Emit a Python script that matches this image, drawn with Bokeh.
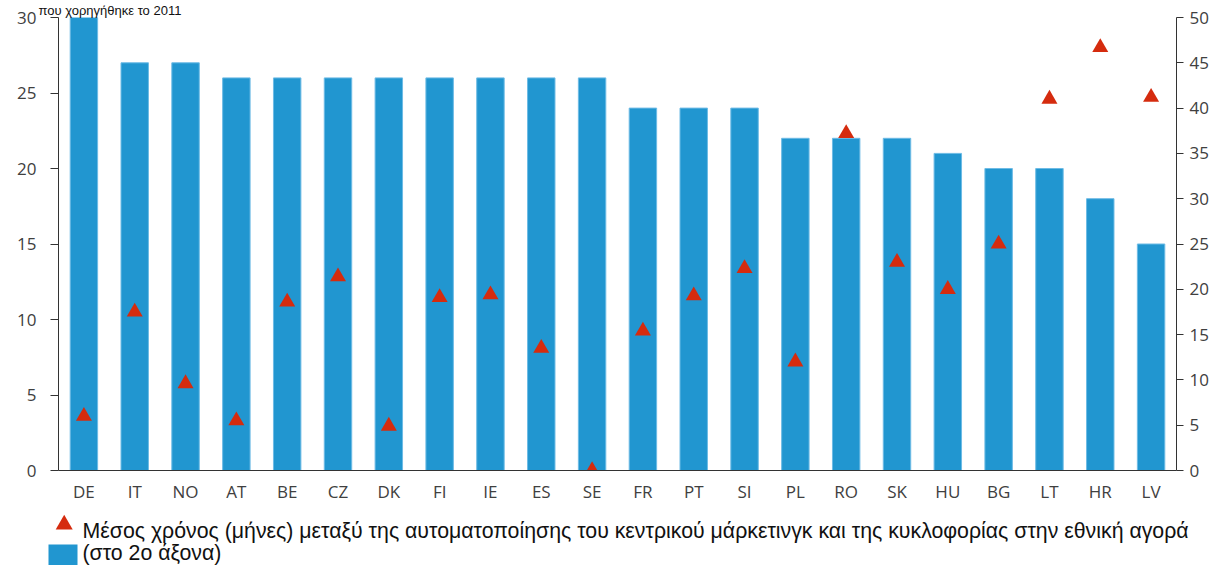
from bokeh.plotting import figure
from bokeh.models import FactorRange, Range1d, LinearAxis, SingleIntervalTicker, ColumnDataSource
from bokeh.layouts import column
from bokeh.core.properties import value
from bokeh.embed import file_html
from bokeh.resources import INLINE

# ---------------- data ----------------
countries = ["DE", "IT", "NO", "AT", "BE", "CZ", "DK", "FI", "IE", "ES", "SE",
             "FR", "PT", "SI", "PL", "RO", "SK", "HU", "BG", "LT", "HR", "LV"]
bars_2011 = [30, 27, 27, 26, 26, 26, 26, 26, 26, 26, 26,
             24, 24, 24, 22, 22, 22, 21, 20, 20, 18, 15]
months_avg = [6.0, 17.5, 9.6, 5.5, 18.6, 21.4, 4.9, 19.1, 19.4, 13.5, 0.0,
              15.4, 19.3, 22.3, 12.0, 37.2, 23.0, 20.0, 25.0, 41.0, 46.7, 41.2]
title_text = "που χορηγήθηκε το 2011"
legend_triangle = "Μέσος χρόνος (μήνες) μεταξύ της αυτοματοποίησης του κεντρικού μάρκετινγκ και της κυκλοφορίας στην εθνική αγορά"
legend_bar = "(στο 2ο άξονα)"

BAR = "#2196d0"
TRI = "#d52b0e"
AXC = "#333333"
LBL = "#404040"
TICK_FONT = "Open Sans"
TEXT_FONT = "Liberation Sans"

W = 1225
H1 = 510
H2 = 55

src = ColumnDataSource(dict(c=countries, b=bars_2011, m=months_avg))

p = figure(x_range=FactorRange(*countries, range_padding=0), y_range=Range1d(0, 30),
           width=W, height=H1, output_backend="svg", toolbar_location=None,
           title=title_text,
           min_border_left=58, min_border_right=49, min_border_top=16, min_border_bottom=40)
p.title.text_font = TEXT_FONT
p.title.text_font_size = "13px"
p.title.text_font_style = "normal"
p.title.text_color = "#111111"
p.title.align = "left"
p.title.standoff = 0
p.title.offset = -20

p.extra_y_ranges = {"right": Range1d(0, 50)}
p.outline_line_color = None
p.xgrid.grid_line_color = None
p.ygrid.grid_line_color = None
p.background_fill_color = None
p.border_fill_color = None

p.vbar(x="c", top="b", width=0.54, source=src, fill_color=BAR, line_color="#6dbbe5", line_width=1)
p.scatter(x="c", y="m", source=src, marker="triangle", size=16, y_range_name="right",
          fill_color=TRI, line_color=None)

xa = p.xaxis[0]
xa.axis_line_color = AXC
xa.major_tick_out = 0
xa.major_tick_in = 0
xa.minor_tick_line_color = None
xa.major_label_text_font = TICK_FONT
xa.major_label_text_font_size = "17px"
xa.major_label_text_color = LBL
xa.major_label_standoff = 9

ly = p.yaxis[0]
ly.ticker = SingleIntervalTicker(interval=5, num_minor_ticks=0)
ly.axis_line_color = AXC
ly.major_tick_line_color = AXC
ly.major_tick_out = 8
ly.major_tick_in = 0
ly.minor_tick_line_color = None
ly.major_label_text_font = TICK_FONT
ly.major_label_text_font_size = "17px"
ly.major_label_text_color = LBL
ly.major_label_standoff = 14

ry = LinearAxis(y_range_name="right", ticker=SingleIntervalTicker(interval=5, num_minor_ticks=0))
ry.axis_line_color = AXC
ry.major_tick_line_color = AXC
ry.major_tick_out = 7
ry.major_tick_in = 0
ry.minor_tick_line_color = None
ry.major_label_text_font = TICK_FONT
ry.major_label_text_font_size = "17px"
ry.major_label_text_color = LBL
ry.major_label_standoff = 6
p.add_layout(ry, "right")

# ---------------- legend ----------------
lg = figure(width=W, height=H2, x_range=Range1d(0, W), y_range=Range1d(H2, 0),
            output_backend="svg", toolbar_location=None, min_border=0,
            x_axis_location=None, y_axis_location=None, frame_align=False)
lg.xgrid.grid_line_color = None
lg.ygrid.grid_line_color = None
lg.outline_line_color = None
lg.background_fill_color = None
lg.border_fill_color = None

lg.scatter(x=[63.7], y=[14], marker="triangle", size=17, fill_color=TRI, line_color=None)
lg.quad(left=[48], right=[77], top=[34], bottom=[H2 + 2], fill_color=BAR, line_color=None)
lg.text(x=[82, 82], y=[20.7, 42.3], text=[legend_triangle, legend_bar],
        text_font=value(TEXT_FONT), text_font_size="21.3px", text_color="#111111",
        text_baseline="alphabetic", text_align="left")

layout = column(p, lg, spacing=0)
open("out.html", "w").write(file_html(layout, INLINE))
